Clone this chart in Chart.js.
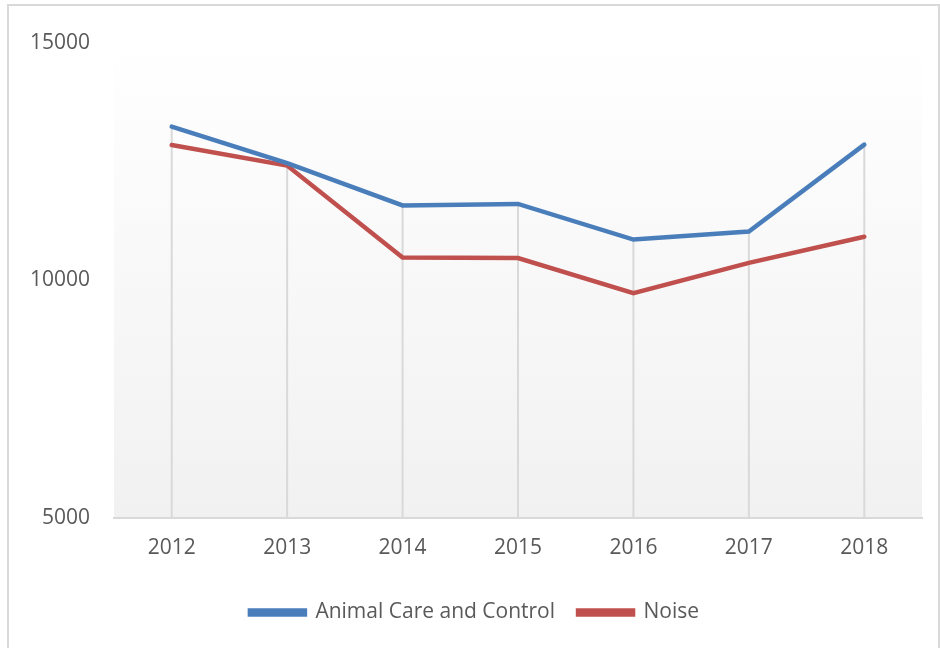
<!DOCTYPE html>
<html>
<head>
<meta charset="utf-8">
<script src="https://cdn.jsdelivr.net/npm/chart.js@4"></script>
<style>
  body { margin: 0; background: #fff; }
  #frame { position: absolute; left: 7px; top: 4px; width: 929px; height: 700px; border: 2px solid #d9d9d9; }
  #wrap { position: absolute; left: 0; top: 0; width: 940px; height: 648px; }
</style>
</head>
<body>
<div id="frame"></div>
<div id="wrap"><canvas id="myChart" width="940" height="648"></canvas></div>
<script>
const years = ["2012", "2013", "2014", "2015", "2016", "2017", "2018"];
const animalCare = [13240, 12470, 11580, 11610, 10860, 11030, 12860];
const noise = [12850, 12420, 10480, 10470, 9730, 10370, 10920];
const yTicks = [5000, 10000, 15000];

// fondo degradado del area de trazado
const fondo = {
  id: "fondo",
  beforeDraw(chart) {
    const a = chart.chartArea;
    const ctx = chart.ctx;
    const g = ctx.createLinearGradient(0, a.top, 0, a.bottom);
    g.addColorStop(0, "#ffffff");
    g.addColorStop(1, "#f1f1f1");
    ctx.save();
    ctx.fillStyle = g;
    ctx.fillRect(a.left, a.top, a.right - a.left, a.bottom - a.top);
    ctx.restore();
  }
};

// lineas de caida desde el punto mas alto hasta el eje
const caida = {
  id: "caida",
  beforeDatasetsDraw(chart) {
    const x = chart.scales.x, y = chart.scales.y;
    const ctx = chart.ctx;
    ctx.save();
    ctx.strokeStyle = "#d9d9d9";
    ctx.lineWidth = 2;
    years.forEach((yr, i) => {
      const top = Math.max(animalCare[i], noise[i]);
      const px = x.getPixelForValue(i);
      ctx.beginPath();
      ctx.moveTo(px, y.getPixelForValue(top));
      ctx.lineTo(px, y.bottom);
      ctx.stroke();
    });
    ctx.restore();
  }
};

const ctx = document.getElementById("myChart").getContext("2d");
const myChart = new Chart(ctx, {
  type: "line",
  data: {
    labels: years,
    datasets: [{
      label: "Animal Care and Control",
      data: animalCare,
      borderColor: "#4a7ebb",
      backgroundColor: "#4a7ebb",
      borderWidth: 4.5,
      pointRadius: 0,
      borderCapStyle: "round",
      tension: 0
    }, {
      label: "Noise",
      data: noise,
      borderColor: "#c0504d",
      backgroundColor: "#c0504d",
      borderWidth: 4.5,
      pointRadius: 0,
      borderCapStyle: "round",
      tension: 0
    }]
  },
  plugins: [fondo, caida],
  options: {
    responsive: false,
    animation: false,
    layout: { padding: { left: 27, right: 18, top: 43, bottom: 15 } },
    scales: {
      x: {
        offset: true,
        grid: { display: false, drawTicks: false },
        border: { display: true, color: "#d9d9d9", width: 2 },
        ticks: { color: "#595959", font: { family: "Open Sans", size: 21 }, padding: 18 }
      },
      y: {
        min: 5000,
        max: 15000,
        afterBuildTicks(scale) { scale.ticks = yTicks.map(v => ({ value: v })); },
        afterFit(scale) { scale.width = 87; },
        grid: { display: false, drawTicks: false },
        border: { display: false },
        ticks: {
          color: "#595959",
          font: { family: "Open Sans", size: 21 },
          padding: 24,
          callback: v => String(v)
        }
      }
    },
    plugins: {
      legend: {
        position: "bottom",
        labels: {
          color: "#595959",
          font: { family: "Open Sans", size: 21 },
          boxWidth: 55,
          boxHeight: 4,
          padding: 23
        }
      },
      tooltip: { enabled: false }
    }
  }
});
</script>
</body>
</html>
